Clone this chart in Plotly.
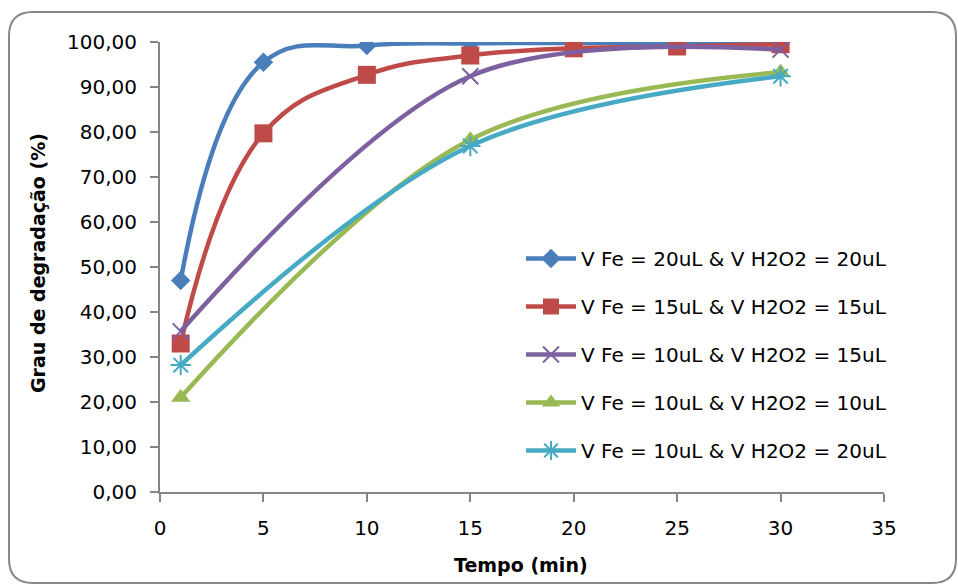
import plotly.graph_objects as go

# ---- data ----
x_full = [1, 5, 10, 15, 20, 25, 30]
x_sparse = [1, 15, 30]

fe20_h20 = [47.0, 95.5, 99.2, 99.7, 99.8, 99.8, 99.8]
fe15_h15 = [33.0, 79.7, 92.7, 97.0, 98.6, 99.0, 99.5]
fe10_h15 = [35.7, 92.4, 98.3]
fe10_h10 = [21.0, 78.3, 93.3]
fe10_h20 = [28.2, 76.9, 92.4]

names = [
    "V Fe = 20uL & V H2O2 = 20uL",
    "V Fe = 15uL & V H2O2 = 15uL",
    "V Fe = 10uL & V H2O2 = 15uL",
    "V Fe = 10uL & V H2O2 = 10uL",
    "V Fe = 10uL & V H2O2 = 20uL",
]
y_ticks = [0, 10, 20, 30, 40, 50, 60, 70, 80, 90, 100]
y_tick_labels = ["0,00", "10,00", "20,00", "30,00", "40,00", "50,00",
                 "60,00", "70,00", "80,00", "90,00", "100,00"]
x_ticks = [0, 5, 10, 15, 20, 25, 30, 35]

# ---- style ----
W, H = 958, 584
L, R, T, B = 160, 884, 42, 492
FONT = "DejaVu Sans"
colors = ["#4a7ebb", "#be4b48", "#7d60a0", "#98b954", "#46aac5"]

series = [
    (x_full, fe20_h20, dict(symbol="diamond", size=15), 1.2),
    (x_full, fe15_h15, dict(symbol="square", size=18), 1.2),
    (x_sparse, fe10_h15, dict(symbol="x-thin-open", size=16, line=dict(width=2)), 0.95),
    (x_sparse, fe10_h10, dict(symbol="triangle-up", size=17), 1.0),
    (x_sparse, fe10_h20, dict(symbol="asterisk-open", size=17, line=dict(width=2)), 1.0),
]

fig = go.Figure()
for i, ((xs, ys, mk, sm), nm, c) in enumerate(zip(series, names, colors)):
    mk = dict(mk)
    mk["color"] = c
    if "line" in mk:
        mk["line"]["color"] = c
    fig.add_trace(go.Scatter(
        x=xs, y=ys, name=nm, mode="lines+markers",
        line=dict(color=c, width=4.5, shape="spline", smoothing=sm),
        marker=mk, legendgroup=f"g{i}",
    ))

def px2x(p):
    return (p - L) / (R - L)

def px2y(p):
    return (B - p) / (B - T)

# rounded border
x0, y0, x1, y1, r = 9, 12, 956, 583, 24
path = (
    f"M{px2x(x0 + r)},{px2y(y0)} L{px2x(x1 - r)},{px2y(y0)} "
    f"Q{px2x(x1)},{px2y(y0)} {px2x(x1)},{px2y(y0 + r)} "
    f"L{px2x(x1)},{px2y(y1 - r)} Q{px2x(x1)},{px2y(y1)} {px2x(x1 - r)},{px2y(y1)} "
    f"L{px2x(x0 + r)},{px2y(y1)} Q{px2x(x0)},{px2y(y1)} {px2x(x0)},{px2y(y1 - r)} "
    f"L{px2x(x0)},{px2y(y0 + r)} Q{px2x(x0)},{px2y(y0)} {px2x(x0 + r)},{px2y(y0)} Z"
)
fig.add_shape(type="path", path=path, xref="paper", yref="paper",
              line=dict(color="#878787", width=2), layer="below")

axis_common = dict(
    showgrid=False, zeroline=False, showline=True, linecolor="#868686",
    linewidth=2, ticks="outside", ticklen=8, tickwidth=1.5,
    tickcolor="#868686", tickfont=dict(family=FONT, size=20, color="#000"),
    ticklabelstandoff=9,
)

fig.update_layout(
    width=W, height=H,
    margin=dict(l=L, r=W - R, t=T, b=H - B, autoexpand=False),
    paper_bgcolor="white", plot_bgcolor="white",
    xaxis=dict(range=[0, 35], tickvals=x_ticks, **axis_common),
    yaxis=dict(range=[0, 100], tickvals=y_ticks, ticktext=y_tick_labels, **axis_common),
    legend=dict(
        x=px2x(521), y=px2y(239), xanchor="left", yanchor="top",
        font=dict(family=FONT, size=20, color="#000"),
        bgcolor="rgba(0,0,0,0)", tracegroupgap=19, traceorder="grouped",
        itemwidth=50,
    ),
    showlegend=True,
    annotations=[
        dict(text="<b>Tempo (min)</b>", x=px2x(521), y=px2y(565),
             xref="paper", yref="paper", showarrow=False,
             xanchor="center", yanchor="middle",
             font=dict(family=FONT, size=19, color="#000")),
        dict(text="<b>Grau de degradação (%)</b>", x=px2x(38), y=px2y(263),
             xref="paper", yref="paper", showarrow=False, textangle=-90,
             xanchor="center", yanchor="middle",
             font=dict(family=FONT, size=19, color="#000")),
    ],
)

fig.write_html("out.html")
